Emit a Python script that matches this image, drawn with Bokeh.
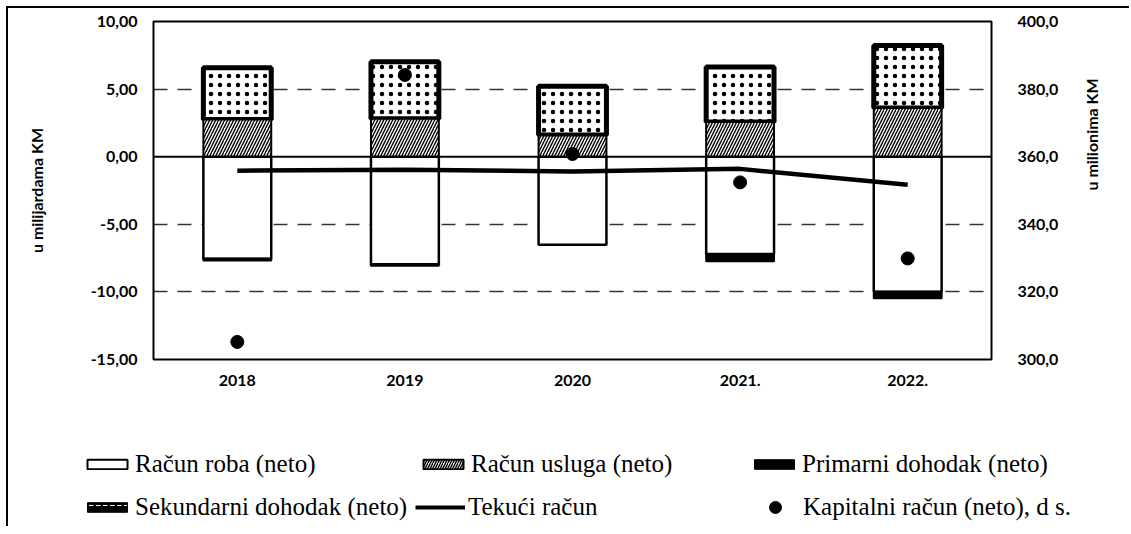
import math
from bokeh.plotting import figure
from bokeh.models import (FactorRange, Range1d, LinearAxis, FixedTicker, Span,
                          Legend, LegendItem)
from bokeh.layouts import column
from bokeh.embed import file_html
from bokeh.resources import INLINE

# ---------------- data ----------------
years = ["2018", "2019", "2020", "2021.", "2022."]
goods = [-7.55, -7.95, -6.52, -7.20, -9.98]          # Račun roba (neto), mlrd KM
services = [2.75, 2.81, 1.56, 2.56, 3.60]            # Račun usluga (neto)
primary = [-0.12, -0.11, 0.04, -0.54, -0.49]         # Primarni dohodak (neto)
secondary = [3.82, 4.21, 3.61, 4.08, 4.63]           # Sekundarni dohodak (neto)
current_account = [-1.03, -0.97, -1.09, -0.90, -2.08]  # Tekući račun
capital = [305.2, 384.2, 360.8, 352.4, 329.9]        # Kapitalni račun (neto), mil KM, d.s.

left_ticks = [-15, -10, -5, 0, 5, 10]
left_tick_labels = ["-15,00", "-10,00", "-5,00", "0,00", "5,00", "10,00"]
right_ticks = [300, 320, 340, 360, 380, 400]
right_tick_labels = ["300,0", "320,0", "340,0", "360,0", "380,0", "400,0"]

labels = ["Račun roba (neto)", "Račun usluga (neto)", "Primarni dohodak (neto)",
          "Sekundarni dohodak (neto)", "Tekući račun", "Kapitalni račun (neto), d s."]

# ---------------- stacking (positive up, negative down) ----------------
series = [goods, services, primary, secondary]
pos = [0.0] * len(years)
neg = [0.0] * len(years)
bottoms, tops = [], []
for s in series:
    b, t = [], []
    for i, v in enumerate(s):
        if v >= 0:
            b.append(pos[i]); t.append(pos[i] + v); pos[i] += v
        else:
            t.append(neg[i]); b.append(neg[i] + v); neg[i] += v
    bottoms.append(b); tops.append(t)

TICK_FONT = "Lato"
BAR_W = 0.405

p = figure(x_range=FactorRange(factors=years), y_range=Range1d(-15, 10),
           width=1121, height=392, output_backend="svg", toolbar_location=None,
           min_border_left=145, min_border_right=138, min_border_top=13,
           min_border_bottom=41)
p.extra_y_ranges = {"cap": Range1d(300, 400)}

p.outline_line_color = "black"
p.outline_line_width = 2
p.xgrid.visible = False
p.ygrid.ticker = FixedTicker(ticks=[-10, -5, 5])
p.ygrid.grid_line_color = "black"
p.ygrid.grid_line_width = 1.5
p.ygrid.grid_line_dash = "14 10"
p.ygrid.grid_line_alpha = 0.8

# bars
p.vbar(x=years, bottom=bottoms[0], top=tops[0], width=BAR_W,
       fill_color="white", line_color="black", line_width=2.5)
p.vbar(x=years, bottom=bottoms[2], top=tops[2], width=BAR_W,
       fill_color="black", line_color="black", line_width=2)
p.vbar(x=years, bottom=bottoms[3], top=tops[3], width=BAR_W,
       fill_color="white", hatch_pattern="dot", hatch_color="black",
       hatch_scale=9, hatch_weight=1.0, line_color="black", line_width=5)
p.vbar(x=years, bottom=bottoms[1], top=tops[1], width=BAR_W,
       fill_color="white", hatch_pattern="right_diagonal_line",
       hatch_color="black", hatch_scale=6, hatch_weight=1.4,
       line_color="black", line_width=2)

p.add_layout(Span(location=0, dimension="width", line_color="black", line_width=2))

p.line(x=years, y=current_account, line_color="black", line_width=4.5)
p.scatter(x=years, y=capital, y_range_name="cap", size=13,
          fill_color="black", line_color="black")

def style_axis(ax):
    ax.axis_line_color = None
    ax.major_tick_line_color = None
    ax.minor_tick_line_color = None
    ax.major_tick_out = 0
    ax.major_tick_in = 0
    ax.minor_tick_out = 0
    ax.major_label_text_font = TICK_FONT
    ax.major_label_text_font_style = "bold"
    ax.major_label_text_font_size = "16px"
    ax.major_label_text_color = "black"
    ax.axis_label_text_font = TICK_FONT
    ax.axis_label_text_font_style = "bold"
    ax.axis_label_text_font_size = "16px"
    ax.axis_label_text_color = "black"

ya = p.yaxis[0]
ya.ticker = FixedTicker(ticks=left_ticks)
ya.major_label_overrides = {t: l for t, l in zip(left_ticks, left_tick_labels)}
ya.axis_label = "u milijardama KM"
style_axis(ya)
ya.major_label_standoff = 16
ya.axis_label_standoff = 42

ra = LinearAxis(y_range_name="cap", ticker=FixedTicker(ticks=right_ticks))
ra.major_label_overrides = {t: l for t, l in zip(right_ticks, right_tick_labels)}
ra.axis_label = "u milionima KM"
ra.axis_label_orientation = math.pi / 2
style_axis(ra)
ra.major_label_standoff = 26
ra.axis_label_standoff = 30
p.add_layout(ra, "right")

xa = p.xaxis[0]
style_axis(xa)
xa.major_label_standoff = 15

# ---------------- legend panel (separate root, full-width frame) ----------------
leg = figure(width=1121, height=126, x_range=Range1d(0, 1), y_range=Range1d(0, 1),
             output_backend="svg", toolbar_location=None, min_border=0,
             x_axis_location=None, y_axis_location=None)
leg.outline_line_color = None
leg.xgrid.visible = False
leg.ygrid.visible = False

nan = float("nan")
d_goods = leg.vbar(x=[nan], top=[nan], width=0.1, fill_color="white",
                   line_color="black", line_width=2)
d_serv = leg.vbar(x=[nan], top=[nan], width=0.1, fill_color="white",
                  line_color="black", line_width=2, hatch_pattern="right_diagonal_line",
                  hatch_color="black", hatch_scale=5, hatch_weight=1.4)
d_prim = leg.vbar(x=[nan], top=[nan], width=0.1, fill_color="black",
                  line_color="black", line_width=1)
d_sec = leg.vbar(x=[nan], top=[nan], width=0.1, fill_color="black",
                 line_color="black", line_width=1, hatch_pattern="horizontal_dash",
                 hatch_color="white", hatch_scale=7, hatch_weight=1)
d_ca = leg.line(x=[nan, nan], y=[nan, nan], line_color="black", line_width=4)
d_cap = leg.scatter(x=[nan], y=[nan], size=12, fill_color="black", line_color="black")

dummies = [d_goods, d_serv, d_prim, d_sec, d_ca, d_cap]
positions = [(74, 47), (410, 47), (741, 47), (74, 4), (407, 4), (742, 4)]
gheights = [12, 12, 12, 12, 12, 30]
for lab, r, loc, gh in zip(labels, dummies, positions, gheights):
    lg = Legend(items=[LegendItem(label=lab, renderers=[r])], location=loc,
                glyph_width=50, glyph_height=gh, label_height=30, label_standoff=3,
                padding=0, margin=0, spacing=0, border_line_color=None,
                background_fill_alpha=0, label_text_font="Liberation Serif",
                label_text_font_size="25px", label_text_color="black")
    leg.add_layout(lg)

root1 = column(p, styles={"margin-left": "6px", "margin-top": "6px",
                          "border-left": "2px solid black",
                          "border-top": "2px solid black"})
root2 = column(leg, styles={"margin-left": "6px",
                            "border-left": "2px solid black"})

with open("out.html", "w") as f:
    f.write(file_html([root1, root2], INLINE))
